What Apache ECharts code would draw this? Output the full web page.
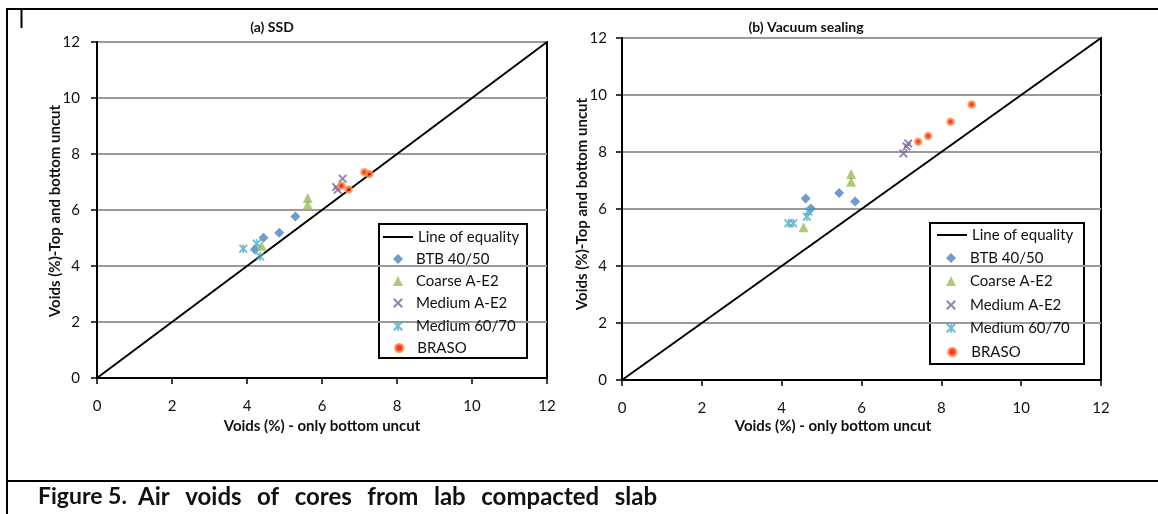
<!DOCTYPE html>
<html><head><meta charset="utf-8">
<script src="https://cdn.jsdelivr.net/npm/echarts@6/dist/echarts.min.js"></script>
<style>html,body{margin:0;padding:0;background:#fff}#c{width:1158px;height:514px}</style>
</head><body><div id="c"></div>
<script>
// ---- data ----
const seriesNames = ['BTB 40/50', 'Coarse A-E2', 'Medium A-E2', 'Medium 60/70', 'BRASO'];
const equalityLine = [[0, 0], [12, 12]];
const axisTicks = [0, 2, 4, 6, 8, 10, 12];
// (a) SSD : [voids only bottom uncut, voids top & bottom uncut]
const ssdBTB = [[4.21, 4.59], [4.44, 5.01], [4.86, 5.19], [5.29, 5.77]];
const ssdCoarse = [[4.39, 4.72], [5.62, 6.43], [5.62, 6.20]];
const ssdMediumAE2 = [[6.38, 6.82], [6.55, 7.12], [6.42, 6.72]];
const ssdMedium6070 = [[3.90, 4.62], [4.26, 4.80], [4.35, 4.34]];
const ssdBRASO = [[6.52, 6.87], [6.71, 6.73], [7.13, 7.35], [7.26, 7.29]];
// (b) Vacuum sealing
const vacBTB = [[4.60, 6.37], [4.73, 6.02], [5.44, 6.56], [5.84, 6.26]];
const vacCoarse = [[5.74, 7.23], [5.74, 6.96], [4.55, 5.36]];
const vacMediumAE2 = [[7.05, 7.95], [7.13, 8.19], [7.17, 8.30]];
const vacMedium6070 = [[4.17, 5.50], [4.29, 5.50], [4.63, 5.73], [4.67, 5.91]];
const vacBRASO = [[7.42, 8.36], [7.67, 8.56], [8.23, 9.06], [8.76, 9.67]];

const FONT = 'Lato, "Open Sans", sans-serif';
const X_PATH = 'path://M0,1.5 L1.5,0 L5,3.5 L8.5,0 L10,1.5 L6.5,5 L10,8.5 L8.5,10 L5,6.5 L1.5,10 L0,8.5 L3.5,5 Z';
const STAR_PATH = 'path://M0,1.5 L1.5,0 L5,3.5 L8.5,0 L10,1.5 L6.5,5 L10,8.5 L8.5,10 L5,6.5 L1.5,10 L0,8.5 L3.5,5 Z M4.2,0 L5.8,0 L5.8,10 L4.2,10 Z';
const LINE_ICON = 'path://M0,0 L30,0 L30,2 L0,2 Z';

const styles = {
  'BTB 40/50': {symbol: 'diamond', symbolSize: 10, itemStyle: {color: '#4F81BD'}},
  'Coarse A-E2': {symbol: 'triangle', symbolSize: 10, itemStyle: {color: '#9BBB59'}},
  'Medium A-E2': {symbol: X_PATH, symbolSize: 9, itemStyle: {color: '#8064A2'}},
  'Medium 60/70': {symbol: STAR_PATH, symbolSize: 9, itemStyle: {color: '#4BACC6'}},
  'BRASO': {symbol: 'circle', symbolSize: 6, itemStyle: {color: '#FF0000', borderColor: '#F79646', borderWidth: 2.5}}
};

function scatter(name, data, idx) {
  return Object.assign({type: 'scatter', name, data, xAxisIndex: idx, yAxisIndex: idx, z: 3}, styles[name]);
}
function axisBase(gi, margin) {
  return {
    type: 'value', min: 0, max: 12, interval: 2, gridIndex: gi,
    axisLine: {show: true, onZero: false, lineStyle: {color: '#000', width: 2}},
    axisTick: {show: true, inside: false, length: 6, lineStyle: {color: '#000', width: 1.5}},
    axisLabel: {color: '#111', fontFamily: FONT, fontSize: 15, margin}
  };
}
function xAxis(gi) { return Object.assign(axisBase(gi, 21), {splitLine: {show: false}}); }
function yAxis(gi, m) { return Object.assign(axisBase(gi, m), {splitLine: {show: true, lineStyle: {color: '#9a9a9a', width: 2}}}); }

// one legend row per entry, so rows sit where the reference puts them
function legendRows(lineLeft, iconCenter, textLeft, rowTops) {
  const names = ['Line of equality'].concat(seriesNames);
  return names.map((n, i) => {
    const isLine = i === 0;
    const isBraso = n === 'BRASO';
    const iw = isLine ? 30 : (isBraso ? 8 : 10);
    const left = isLine ? lineLeft : iconCenter - iw / 2;
    const textStart = left + iw + 5;
    return {
      z: 20, orient: 'vertical', left, top: rowTops[i] - 9,
      data: [isLine ? {name: n, icon: LINE_ICON} : (isBraso ? {name: n, itemStyle: {borderWidth: 2.5, borderColor: '#F79646', color: '#FF0000'}} : n)],
      padding: 0, itemWidth: iw, itemHeight: isBraso ? 8 : 10, itemGap: 0,
      textStyle: {fontFamily: FONT, fontSize: 15, color: '#111', lineHeight: 18, padding: [0, 0, 0, Math.max(0, textLeft - textStart)]},
      selectedMode: false
    };
  });
}

const series = [];
[[ssdBTB, ssdCoarse, ssdMediumAE2, ssdMedium6070, ssdBRASO], [vacBTB, vacCoarse, vacMediumAE2, vacMedium6070, vacBRASO]].forEach((sets, gi) => {
  series.push({type: 'line', name: 'Line of equality', data: equalityLine, xAxisIndex: gi, yAxisIndex: gi,
    symbol: 'none', lineStyle: {color: '#000', width: 2}, itemStyle: {color: '#000'}, z: 2, silent: true});
  sets.forEach((d, i) => series.push(scatter(seriesNames[i], d, gi)));
});

const boldText = (x, y, text, size, rot, align) => ({
  type: 'text', x, y, rotation: rot || 0,
  style: {text, fontFamily: FONT, fontWeight: 'bold', fontSize: size, fill: '#111', align: align || 'center', verticalAlign: 'middle'}
});
const box = (x, y, w, h) => ({type: 'rect', shape: {x, y, width: w, height: h}, style: {fill: '#fff', stroke: '#000', lineWidth: 2}});

// caption: justified between two x positions, like the document line
const CAP_SIZE = 24;
const captionWords = ['Air', 'voids', 'of', 'cores', 'from', 'lab', 'compacted', 'slab'];
function justifiedWords(words, x0, x1, y, size) {
  const ctx = document.createElement('canvas').getContext('2d');
  ctx.font = 'bold ' + size + 'px ' + FONT;
  const widths = words.map(w => ctx.measureText(w).width);
  const total = widths.reduce((a, b) => a + b, 0);
  const gap = (x1 - x0 - total) / (words.length - 1);
  let x = x0;
  return words.map((w, i) => { const el = boldText(x, y, w, size, 0, 'left'); x += widths[i] + gap; return el; });
}

const chart = echarts.init(document.getElementById('c'), null, {renderer: 'canvas'});
chart.setOption({
  animation: false,
  backgroundColor: '#fff',
  grid: [
    {left: 97, right: 611, top: 42, bottom: 136, show: true, borderColor: '#000', borderWidth: 2, backgroundColor: 'transparent'},
    {left: 622, right: 57, top: 38, bottom: 134, show: true, borderColor: '#000', borderWidth: 2, backgroundColor: 'transparent'}
  ],
  xAxis: [xAxis(0), xAxis(1)],
  yAxis: [yAxis(0, 17), yAxis(1, 15)],
  legend: legendRows(383, 398, 416, [237, 259, 281, 303, 326, 348]).concat(legendRows(937, 951, 970, [235, 258, 281, 305, 328, 352])),
  series,
  graphic: [
    {type: 'group', z: 10, children: [box(379, 224, 148, 134), box(930, 223, 154, 141)]},
    {type: 'group', z: 10, children: [
      {type: 'line', shape: {x1: 6, y1: 9, x2: 1158, y2: 9}, style: {stroke: '#000', lineWidth: 2}},
      {type: 'line', shape: {x1: 7, y1: 9, x2: 7, y2: 514}, style: {stroke: '#000', lineWidth: 2}},
      {type: 'line', shape: {x1: 6, y1: 481, x2: 1158, y2: 481}, style: {stroke: '#000', lineWidth: 2}},
      {type: 'line', shape: {x1: 21.5, y1: 9, x2: 21.5, y2: 28}, style: {stroke: '#000', lineWidth: 2}},
      boldText(272, 27, '(a) SSD', 14),
      boldText(806, 27, '(b) Vacuum sealing', 14),
      boldText(322, 426, 'Voids (%) - only bottom uncut', 15),
      boldText(833, 426, 'Voids (%) - only bottom uncut', 15),
      boldText(55, 211, 'Voids (%)-Top and bottom uncut', 15, Math.PI / 2),
      boldText(582, 204, 'Voids (%)-Top and bottom uncut', 15, Math.PI / 2),
      boldText(38, 497, 'Figure 5.', 23, 0, 'left')
    ].concat(justifiedWords(captionWords, 138, 657, 497, CAP_SIZE))}
  ]
});
</script></body></html>
